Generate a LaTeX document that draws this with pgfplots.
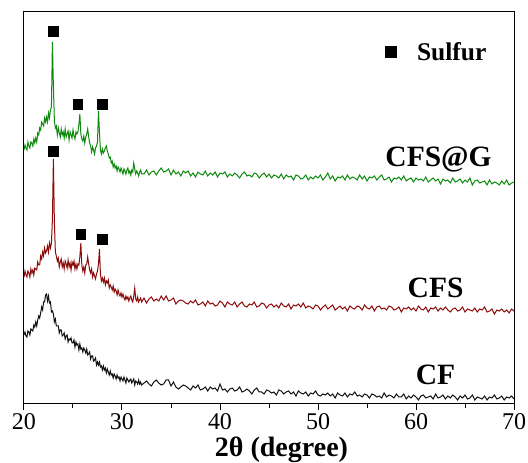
\documentclass[border=0pt]{standalone}
\usepackage{fontspec}
\setmainfont{Liberation Serif}
\usepackage{pgfplots}
\usepackage{pgfplotstable}
\pgfplotsset{compat=1.18}
\usetikzlibrary{calc}
\definecolor{cfblack}{HTML}{111111}
\definecolor{cfsred}{HTML}{8B0A0A}
\definecolor{cfsggreen}{HTML}{0E8A0E}

% x = 2theta, columns = intensity (offset traces)
\pgfplotstableread{
x cf cfs cfsg
20.0 69 127 254
20.1 72 133 259
20.2 68 129 256
20.3 67 127 254
20.4 73 133 262
20.5 72 131 258
20.6 69 127 256
20.7 75 135 262
20.8 74 131 261
20.9 73 134 258
21.0 79 129 265
21.1 77 136 261
21.2 82 135 266
21.3 78 134 262
21.4 84 142 271
21.5 88 139 269
21.6 86 139 276
21.7 91 148 274
21.8 97 145 282
21.9 94 152 280
22.0 102 148 278
22.1 102 156 286
22.2 109 151 282
22.3 110 153 287
22.4 103 158 282
22.5 108 152 291
22.6 101 161 286
22.7 102 156 294
22.8 92 161 297
22.9 93 185 362
23.0 90 245 318
23.1 82 182 283
23.2 85 152 276
23.3 78 148 278
23.4 78 143 269
23.5 78 146 276
23.6 71 137 271
23.7 74 142 267
23.8 74 145 275
23.9 68 137 269
24.0 69 141 272
24.1 71 135 266
24.2 65 143 275
24.3 68 140 267
24.4 69 136 270
24.5 62 144 273
24.6 65 137 264
24.7 64 141 272
24.8 66 134 269
24.9 61 142 266
25.0 61 139 274
25.1 64 143 268
25.2 57 135 265
25.3 62 140 272
25.4 59 135 270
25.5 60 140 272
25.6 54 139 279
25.7 60 147 290
25.8 55 161 270
25.9 56 139 265
26.0 52 133 263
26.1 56 137 268
26.2 54 131 261
26.3 51 139 267
26.4 55 140 270
26.5 49 147 275
26.6 50 140 267
26.7 52 134 261
26.8 45 131 258
26.9 48 135 252
27.0 48 127 257
27.1 43 131 254
27.2 44 128 250
27.3 46 125 256
27.4 39 130 258
27.5 42 133 262
27.6 39 140 293
27.7 42 155 272
27.8 37 130 254
27.9 38 123 250
28.0 34 126 255
28.1 38 122 251
28.2 34 126 253
28.3 36 119 256
28.4 31 123 258
28.5 35 121 253
28.6 32 124 250
28.7 29 116 246
28.8 33 119 247
28.9 29 117 241
29.0 30 114 243
29.1 26 118 237
29.2 30 112 240
29.3 28 115 236
29.4 25 113 238
29.5 29 109 233
29.6 26 114 237
29.7 27 110 235
29.8 23 108 232
29.9 27 111 236
30.0 25 107 233
30.1 23 110 230
30.2 27 106 235
30.3 24 104 233
30.4 21 108 230
30.5 26 105 234
30.6 24 107 236
30.7 22 103 231
30.8 24 106 233
30.9 25 108 229
31.0 21 104 234
31.1 23 102 232
31.2 25 108 241
31.3 19 116 235
31.4 23 105 230
31.5 22 103 233
31.6 20 107 231
31.7 24 102 228
31.8 20 104 232
31.9 22 106 234
32.0 19 102 230
32.25 21 106 230
32.5 23 101 234
32.75 20 105 229
33.0 18 107 232
33.25 22 103 233
33.5 24 105 229
33.75 21 103 233
34.0 19 108 236
34.25 20 104 232
34.5 24 108 233
34.75 24 103 235
35.0 18 104 229
35.25 22 106 234
35.5 17 100 230
35.75 15 103 232
36.0 17 104 228
36.25 19 103 233
36.5 18 101 231
36.75 16 100 233
37.0 14 103 228
37.25 18 101 231
37.5 16 104 227
37.75 19 99 232
38.0 14 100 230
38.25 15 102 229
38.5 17 98 233
38.75 13 103 228
39.0 17 100 231
39.25 15 101 229
39.5 16 98 232
39.75 13 99 227
40.0 20 103 231
40.25 14 101 230
40.5 15 97 232
40.75 12 102 227
41.0 15 100 230
41.25 16 99 228
41.5 13 102 231
41.75 14 97 229
42.0 17 100 226
42.25 12 102 230
42.5 13 98 232
42.75 15 97 228
43.0 13 100 229
43.25 10 99 227
43.5 14 102 231
43.75 16 97 230
44.0 12 98 226
44.25 12 101 229
44.5 10 100 231
44.75 14 96 227
45.0 13 99 230
45.25 11 100 226
45.5 12 97 229
45.75 9 99 228
46.0 14 96 226
46.25 13 101 230
46.5 10 98 225
46.75 12 97 229
47.0 13 100 227
47.25 10 95 228
47.5 12 99 224
47.75 8 98 229
48.0 13 100 228
48.25 11 97 225
48.5 10 101 226
48.75 12 96 229
49.0 8 98 224
49.25 11 97 227
49.5 10 95 225
49.75 13 99 228
50.0 9 98 226
50.25 8 94 229
50.5 10 97 224
50.75 9 99 227
51.0 11 95 231
51.25 8 97 225
51.5 10 99 228
51.75 6 94 223
52.0 11 96 227
52.25 9 98 226
52.5 8 95 228
52.75 11 97 224
53.0 7 93 229
53.25 10 98 225
53.5 9 96 227
53.75 12 95 226
54.0 8 98 224
54.25 9 97 229
54.5 7 94 225
54.75 10 99 228
55.0 9 96 223
55.25 6 95 227
55.5 10 98 226
55.75 9 93 228
56.0 7 97 224
56.25 8 98 227
56.5 6 95 229
56.75 11 96 224
57.0 7 94 225
57.25 9 98 227
57.5 8 97 222
57.75 6 94 226
58.0 10 95 225
58.25 7 97 227
58.5 7 92 224
58.75 10 96 228
59.0 5 95 223
59.25 8 97 225
59.5 6 94 226
59.75 9 96 222
60.0 7 93 226
60.25 4 98 224
60.5 8 95 225
60.75 9 94 223
61.0 6 97 227
61.25 7 92 222
61.5 8 96 224
61.75 5 95 226
62.0 10 97 223
62.25 6 93 225
62.5 7 96 220
62.75 9 94 225
63.0 5 97 223
63.25 8 94 224
63.5 6 92 221
63.75 9 95 226
64.0 7 96 222
64.25 4 93 223
64.5 8 94 225
64.75 6 97 221
65.0 9 92 224
65.25 5 95 222
65.5 6 94 226
65.75 9 93 219
66.0 4 96 223
66.25 7 92 224
66.5 6 95 221
66.75 5 94 222
67.0 8 97 223
67.25 4 92 219
67.5 7 93 224
67.75 6 95 220
68.0 9 90 222
68.25 5 94 221
68.5 6 93 219
68.75 8 95 223
69.0 4 92 220
69.25 7 94 224
69.5 6 91 219
69.75 8 95 221
70.0 5 93 222
}\xrd

\begin{document}
\begin{tikzpicture}
\begin{axis}[name=ax,
  scale only axis, width=490pt, height=392pt,
  xmin=20, xmax=70, ymin=0, ymax=392,
  axis line style={line width=1pt},
  xtick={20,30,...,70}, minor x tick num=1,
  xtick pos=bottom, tick align=outside,
  major tick length=6pt, minor tick length=4pt,
  tick style={black, line width=1pt},
  ytick=\empty,
  /pgf/number format/assume math mode=true,
  xticklabel={\pgfmathprintnumber[assume math mode=true]{\tick}},
  xticklabel style={font=\fontsize{24}{24}\selectfont, inner sep=1pt, yshift=-2pt},
  xlabel={2θ (degree)},
  xlabel style={font=\fontsize{28}{28}\selectfont\bfseries, at={(axis description cs:0.5255,0)}, anchor=north, yshift=-33pt, inner sep=0pt},
  legend style={draw=none, fill=none, at={(axis cs:56.8,352)}, anchor=west, inner sep=0pt,
    font=\fontsize{25.5}{26}\selectfont\bfseries, nodes={inner sep=0pt}},
  legend image code/.code={\fill[black] (-5.5pt,-5.5pt) rectangle (5.5pt,5.5pt); \path[draw=none, fill=none] (5.5pt,0) -- (26.5pt,0);},
]
\addplot[cfblack, line width=1pt, forget plot] table[x=x, y=cf] {\xrd};
\addplot[cfsred, line width=1pt, forget plot] table[x=x, y=cfs] {\xrd};
\addplot[cfsggreen, line width=1pt, forget plot] table[x=x, y=cfsg] {\xrd};
\addplot[only marks, mark=square*, mark size=4.8pt, black] coordinates {
  (22.99,373) (25.48,300) (27.96,300)
  (22.99,253) (25.78,170) (27.96,165)
};
\addlegendentry{Sulfur}
\node[font=\fontsize{29.5}{30}\selectfont\bfseries, anchor=base] at (axis cs:62.3,237) {CFS@G};
\node[font=\fontsize{29.5}{30}\selectfont\bfseries, anchor=base] at (axis cs:62.0,106) {CFS};
\node[font=\fontsize{29.5}{30}\selectfont\bfseries, anchor=base] at (axis cs:62.0,19) {CF};
\end{axis}
\pgfresetboundingbox
\path ($(ax.south west)+(-24pt,-59pt)$) rectangle ($(ax.north east)+(14pt,12pt)$);
\end{tikzpicture}
\end{document}
